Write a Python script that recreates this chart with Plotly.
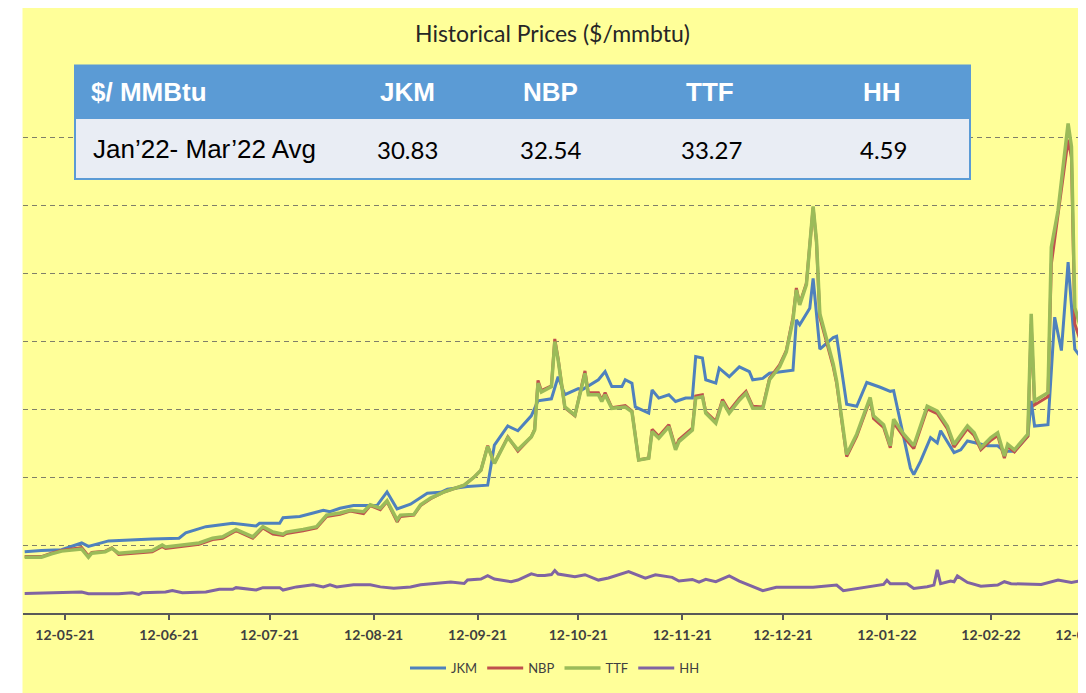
import plotly.graph_objects as go

# ---------------- data ----------------
jkm_dates = ["2021-04-30","2021-05-05","2021-05-11","2021-05-17","2021-05-19","2021-05-25","2021-06-07","2021-06-15",
             "2021-06-17","2021-06-23","2021-07-01","2021-07-08","2021-07-09","2021-07-15","2021-07-16","2021-07-21",
             "2021-07-25","2021-07-28","2021-07-30","2021-08-02","2021-08-06","2021-08-13","2021-08-16","2021-08-19",
             "2021-08-23","2021-08-28","2021-09-01","2021-09-03","2021-09-09","2021-09-15","2021-09-17","2021-09-21",
             "2021-09-24","2021-09-28","2021-09-30","2021-10-04","2021-10-06","2021-10-08","2021-10-12","2021-10-13",
             "2021-10-18","2021-10-20","2021-10-22","2021-10-25","2021-10-26","2021-10-28","2021-10-29","2021-11-02",
             "2021-11-03","2021-11-05","2021-11-08","2021-11-10","2021-11-13","2021-11-15","2021-11-16","2021-11-18",
             "2021-11-19","2021-11-22","2021-11-23","2021-11-26","2021-11-29","2021-12-02","2021-12-03","2021-12-06",
             "2021-12-08","2021-12-15","2021-12-16","2021-12-17","2021-12-20","2021-12-21","2021-12-23","2021-12-27",
             "2021-12-28","2021-12-30","2021-12-31","2022-01-03","2022-01-06","2022-01-10","2022-01-13","2022-01-14",
             "2022-01-16","2022-01-19","2022-01-20","2022-01-22","2022-01-25","2022-01-27","2022-01-28","2022-02-01",
             "2022-02-03","2022-02-05","2022-02-11","2022-02-14","2022-02-16","2022-02-19","2022-02-23","2022-02-24",
             "2022-02-25","2022-03-01","2022-03-03","2022-03-05","2022-03-07","2022-03-09","2022-03-12"]
jkm_vals = [9.0, 9.2, 9.3, 10.3, 9.8, 10.6, 10.9, 11.0,
            11.8, 12.7, 13.2, 12.8, 13.2, 13.2, 14.0, 14.2,
            14.7, 15.1, 14.9, 15.4, 15.8, 15.8, 17.8, 15.3,
            16.0, 17.6, 17.75, 18.2, 18.6, 18.8, 24.7, 27.5,
            26.8, 29.0, 31.2, 31.5, 34.75, 32.1, 33.0, 32.8,
            34.3, 35.5, 33.3, 33.3, 34.3, 33.8, 30.3, 29.4,
            32.8, 31.6, 32.1, 31.1, 31.6, 31.6, 37.7, 37.5,
            34.3, 33.8, 36.0, 34.75, 36.2, 35.5, 34.3, 34.5,
            35.25, 35.7, 43.1, 42.4, 44.8, 49.2, 38.8, 40.5,
            40.7, 34.1, 30.7, 30.4, 33.9, 33.2, 32.6, 32.7,
            28.2, 21.3, 20.35, 22.3, 25.8, 25.0, 26.8, 23.6,
            24.0, 25.3, 24.6, 24.6, 23.8, 23.8, 26.0, 31.2,
            27.5, 27.7, 43.5, 38.6, 51.6, 38.8, 36.8]

eu_dates = ["2021-04-30","2021-05-05","2021-05-08","2021-05-11","2021-05-17","2021-05-19","2021-05-20","2021-05-24",
            "2021-05-26","2021-05-28","2021-06-07","2021-06-10","2021-06-11","2021-06-17","2021-06-21","2021-06-25",
            "2021-06-28","2021-07-02","2021-07-07","2021-07-10","2021-07-13","2021-07-16","2021-07-17","2021-07-22",
            "2021-07-26","2021-07-29","2021-08-02","2021-08-05","2021-08-09","2021-08-11","2021-08-14","2021-08-16",
            "2021-08-19","2021-08-20","2021-08-24","2021-08-26","2021-08-29","2021-09-02","2021-09-08","2021-09-11",
            "2021-09-13","2021-09-15","2021-09-17","2021-09-21","2021-09-24","2021-09-28","2021-09-29","2021-09-30",
            "2021-10-01","2021-10-04","2021-10-05","2021-10-06","2021-10-08","2021-10-11","2021-10-14","2021-10-15",
            "2021-10-18","2021-10-19","2021-10-20","2021-10-22","2021-10-26","2021-10-28","2021-10-30","2021-11-02",
            "2021-11-03","2021-11-05","2021-11-08","2021-11-10","2021-11-11","2021-11-15","2021-11-16","2021-11-18",
            "2021-11-19","2021-11-22","2021-11-24","2021-11-26","2021-11-29","2021-12-01","2021-12-03","2021-12-06",
            "2021-12-08","2021-12-11","2021-12-13","2021-12-15","2021-12-16","2021-12-17","2021-12-19","2021-12-21",
            "2021-12-22","2021-12-23","2021-12-27","2021-12-28","2021-12-31","2022-01-03","2022-01-07","2022-01-08",
            "2022-01-11","2022-01-13","2022-01-14","2022-01-17","2022-01-20","2022-01-24","2022-01-27","2022-01-30",
            "2022-02-01","2022-02-05","2022-02-07","2022-02-09","2022-02-12","2022-02-14","2022-02-16","2022-02-17",
            "2022-02-19","2022-02-23","2022-02-24","2022-02-25","2022-03-01","2022-03-02","2022-03-04","2022-03-07",
            "2022-03-08","2022-03-09","2022-03-11","2022-03-12"]
ttf_vals = [8.2, 8.2, 8.7, 9.1, 9.4, 8.2, 8.8, 9.0,
            9.5, 8.8, 9.2, 10.0, 9.7, 10.0, 10.3, 11.0,
            11.2, 12.3, 11.2, 12.7, 11.9, 11.6, 11.9, 12.3,
            12.7, 14.4, 14.7, 15.1, 14.9, 15.9, 15.4, 16.5,
            13.7, 14.4, 14.5, 15.9, 16.9, 17.8, 18.8, 20.0,
            21.0, 24.5, 22.0, 25.8, 24.0, 25.9, 26.9, 33.8,
            32.5, 33.3, 39.9, 37.2, 30.3, 29.1, 35.25, 32.1,
            32.1, 31.1, 32.1, 30.1, 30.3, 29.6, 22.5, 22.75,
            26.7, 25.7, 27.4, 24.0, 25.2, 26.9, 31.6, 31.8,
            29.4, 27.9, 31.1, 29.4, 31.3, 32.3, 30.1, 30.1,
            34.3, 36.2, 38.4, 43.1, 47.5, 45.3, 48.3, 59.8,
            54.8, 44.0, 36.6, 34.1, 23.3, 26.3, 31.7, 29.0,
            27.7, 24.6, 28.5, 26.3, 24.6, 30.4, 29.7, 27.5,
            24.8, 27.5, 26.5, 24.3, 25.8, 26.5, 23.1, 24.8,
            24.0, 26.3, 44.0, 31.2, 32.4, 53.8, 59.2, 72.0,
            68.6, 44.9, 41.5, 41.0]
nbp_vals = [8.3, 8.3, 8.8, 9.2, 9.6, 8.4, 8.9, 9.1,
            9.6, 8.6, 9.0, 9.8, 9.5, 9.8, 10.1, 10.8,
            11.0, 12.1, 11.0, 12.5, 11.6, 11.4, 11.7, 12.1,
            12.5, 14.2, 14.5, 15.0, 14.6, 15.8, 15.2, 16.4,
            13.4, 14.2, 14.4, 15.8, 16.8, 17.8, 18.8, 20.0,
            21.0, 24.6, 22.0, 25.9, 23.8, 25.9, 27.0, 34.2,
            32.7, 33.4, 40.3, 37.4, 30.2, 29.0, 35.6, 32.4,
            32.4, 31.3, 32.4, 30.2, 30.5, 29.7, 22.5, 22.8,
            27.0, 26.0, 27.7, 24.3, 25.5, 27.2, 31.9, 32.1,
            29.6, 28.2, 31.4, 29.7, 31.6, 32.6, 30.4, 30.3,
            34.5, 36.5, 38.6, 43.5, 47.8, 45.5, 48.5, 59.6,
            54.5, 43.5, 36.2, 33.8, 23.0, 26.0, 31.4, 28.6,
            27.3, 24.3, 28.0, 25.9, 24.2, 30.0, 29.3, 27.1,
            24.4, 27.1, 26.1, 24.0, 25.4, 26.1, 22.8, 24.5,
            23.7, 26.0, 42.5, 30.6, 31.8, 51.3, 58.5, 69.6,
            67.0, 42.5, 39.5, 39.4]

hh_dates = ["2021-04-30","2021-05-17","2021-05-19","2021-05-28","2021-06-01","2021-06-03","2021-06-04","2021-06-11",
            "2021-06-13","2021-06-16","2021-06-23","2021-06-27","2021-07-01","2021-07-02","2021-07-08","2021-07-10",
            "2021-07-15","2021-07-16","2021-07-20","2021-07-25","2021-07-28","2021-07-30","2021-08-01","2021-08-06",
            "2021-08-11","2021-08-14","2021-08-18","2021-08-23","2021-08-26","2021-08-30","2021-09-04","2021-09-08",
            "2021-09-09","2021-09-13","2021-09-15","2021-09-17","2021-09-22","2021-09-24","2021-09-28","2021-09-30",
            "2021-10-02","2021-10-04","2021-10-05","2021-10-06","2021-10-11","2021-10-14","2021-10-18","2021-10-21",
            "2021-10-26","2021-10-27","2021-11-01","2021-11-04","2021-11-09","2021-11-11","2021-11-15","2021-11-17",
            "2021-11-19","2021-11-22","2021-11-26","2021-11-29","2021-12-06","2021-12-10","2021-12-21","2021-12-26",
            "2021-12-28","2021-12-30","2022-01-05","2022-01-11","2022-01-12","2022-01-13","2022-01-18","2022-01-20",
            "2022-01-24","2022-01-26","2022-01-27","2022-01-28","2022-01-31","2022-02-01","2022-02-02","2022-02-05",
            "2022-02-09","2022-02-14","2022-02-16","2022-02-18","2022-02-27","2022-03-04","2022-03-08","2022-03-12"]
hh_vals = [2.87, 3.08, 2.82, 2.82, 2.97, 2.72, 2.97, 3.08,
           3.32, 2.97, 3.08, 3.49, 3.49, 3.73, 3.38, 3.73,
           3.73, 3.38, 3.84, 4.15, 3.84, 4.15, 3.84, 4.15,
           4.15, 3.84, 3.63, 3.84, 4.15, 4.34, 4.56, 4.34,
           4.85, 5.0, 5.5, 5.0, 4.6, 4.85, 5.76, 5.5,
           5.5, 5.65, 6.26, 5.73, 5.33, 5.63, 4.84, 5.14,
           6.0, 6.1, 5.14, 5.63, 5.24, 4.7, 4.94, 4.55,
           4.94, 4.6, 5.45, 4.7, 3.28, 3.79, 3.79, 3.94,
           4.1, 3.28, 3.7, 4.2, 4.82, 4.3, 4.3, 3.6,
           3.85, 4.1, 6.35, 4.3, 4.7, 4.6, 5.45, 4.5,
           3.95, 4.1, 4.6, 4.3, 4.2, 4.85, 4.5, 4.85]

tick_dates = ["2021-05-12","2021-06-12","2021-07-12","2021-08-12","2021-09-12","2021-10-12",
              "2021-11-12","2021-12-12","2022-01-12","2022-02-12","2022-03-12"]

table_header = ["$/ MMBtu", "JKM", "NBP", "TTF", "HH"]
table_row_label = "Jan\u201922- Mar\u201922 Avg"
table_values = ["30.83", "32.54", "33.27", "4.59"]

title_text = "Historical Prices ($/mmbtu)"

# ---------------- figure ----------------
# the page body has an 8px margin, so the figure is sized to fit the window
OFF = 8
W, H = 1086 - OFF, 693 - OFF
L, R, T, B = 23 - OFF, 0, 69 - OFF, 80
PW, PH = W - L - R, H - T - B

def px(x):  # window x -> paper fraction
    return (x - OFF - L) / PW

def py(y):  # window y -> paper fraction
    return (H - B - (y - OFF)) / PH

YELLOW = "#FFFF99"
fig = go.Figure()
fig.add_trace(go.Scatter(x=jkm_dates, y=jkm_vals, name="JKM", mode="lines",
                         line=dict(color="#4F81BD", width=3)))
fig.add_trace(go.Scatter(x=eu_dates, y=nbp_vals, name="NBP", mode="lines",
                         line=dict(color="#C0504D", width=3)))
fig.add_trace(go.Scatter(x=eu_dates, y=ttf_vals, name="TTF", mode="lines",
                         line=dict(color="#9BBB59", width=3.5)))
fig.add_trace(go.Scatter(x=hh_dates, y=hh_vals, name="HH", mode="lines",
                         line=dict(color="#8064A2", width=3)))

shapes = [
    dict(type="rect", xref="paper", yref="paper", layer="below",
         x0=px(22.5), x1=px(1090), y0=py(700), y1=py(OFF),
         fillcolor=YELLOW, line=dict(width=0)),
    dict(type="rect", xref="paper", yref="paper", layer="above",
         x0=px(75), x1=px(970), y0=py(118), y1=py(179),
         fillcolor="#E9EDF4", line=dict(color="#5B9BD5", width=2)),
    dict(type="rect", xref="paper", yref="paper", layer="above",
         x0=px(74), x1=px(971), y0=py(117), y1=py(64.5),
         fillcolor="#5B9BD5", line=dict(width=0)),
]

annotations = [
    dict(text=title_text, xref="paper", yref="paper", x=px(552.5), y=py(33),
         xanchor="center", yanchor="middle", showarrow=False,
         font=dict(family="Lato", size=23, color="#262626")),
    dict(text="<b>%s</b>" % table_header[0], xref="paper", yref="paper", x=px(89), y=py(92),
         xanchor="left", yanchor="middle", showarrow=False,
         font=dict(family="Liberation Sans", size=26, color="white")),
    dict(text=table_row_label, xref="paper", yref="paper", x=px(91), y=py(149),
         xanchor="left", yanchor="middle", showarrow=False,
         font=dict(family="Liberation Sans", size=26, color="black")),
]
hdr_x = [407, 550, 710, 882]
val_x = [407, 550, 711, 883]
for h, xh in zip(table_header[1:], hdr_x):
    annotations.append(dict(text="<b>%s</b>" % h, xref="paper", yref="paper", x=px(xh), y=py(92),
                            xanchor="center", yanchor="middle", showarrow=False,
                            font=dict(family="Liberation Sans", size=26, color="white")))
for v, xv in zip(table_values, val_x):
    annotations.append(dict(text=v, xref="paper", yref="paper", x=px(xv), y=py(149),
                            xanchor="center", yanchor="middle", showarrow=False,
                            font=dict(family="Lato", size=24, color="black")))

fig.update_layout(
    width=W, height=H, autosize=False,
    margin=dict(l=L, r=R, t=T, b=B, autoexpand=False),
    paper_bgcolor="white", plot_bgcolor=YELLOW,
    shapes=shapes, annotations=annotations,
    showlegend=True,
    legend=dict(orientation="h", x=px(555), xanchor="center", y=py(668), yanchor="middle",
                bgcolor="rgba(0,0,0,0)", font=dict(family="Lato", size=13, color="#404040"),
                itemwidth=36, tracegroupgap=0),
    xaxis=dict(type="date", range=["2021-04-29 12:00", "2022-03-12 08:00"],
               tickvals=tick_dates, tickformat="%d-%m-%y",
               ticks="outside", ticklen=5, tickwidth=1.5, tickcolor="#595959",
               showline=True, linecolor="#595959", linewidth=1.5,
               showgrid=False, zeroline=False, ticklabelstandoff=3,
               ticklabeloverflow="allow", automargin=False,
               tickfont=dict(family="Lato", size=14, color="#404040", weight="bold")),
    yaxis=dict(range=[0, 80], tick0=0, dtick=10, showticklabels=False, ticks="",
               showgrid=True, gridcolor="#7F7F6A", gridwidth=1, griddash="5px,4px",
               zeroline=False, showline=False, automargin=False),
)

fig.write_html("out.html")
